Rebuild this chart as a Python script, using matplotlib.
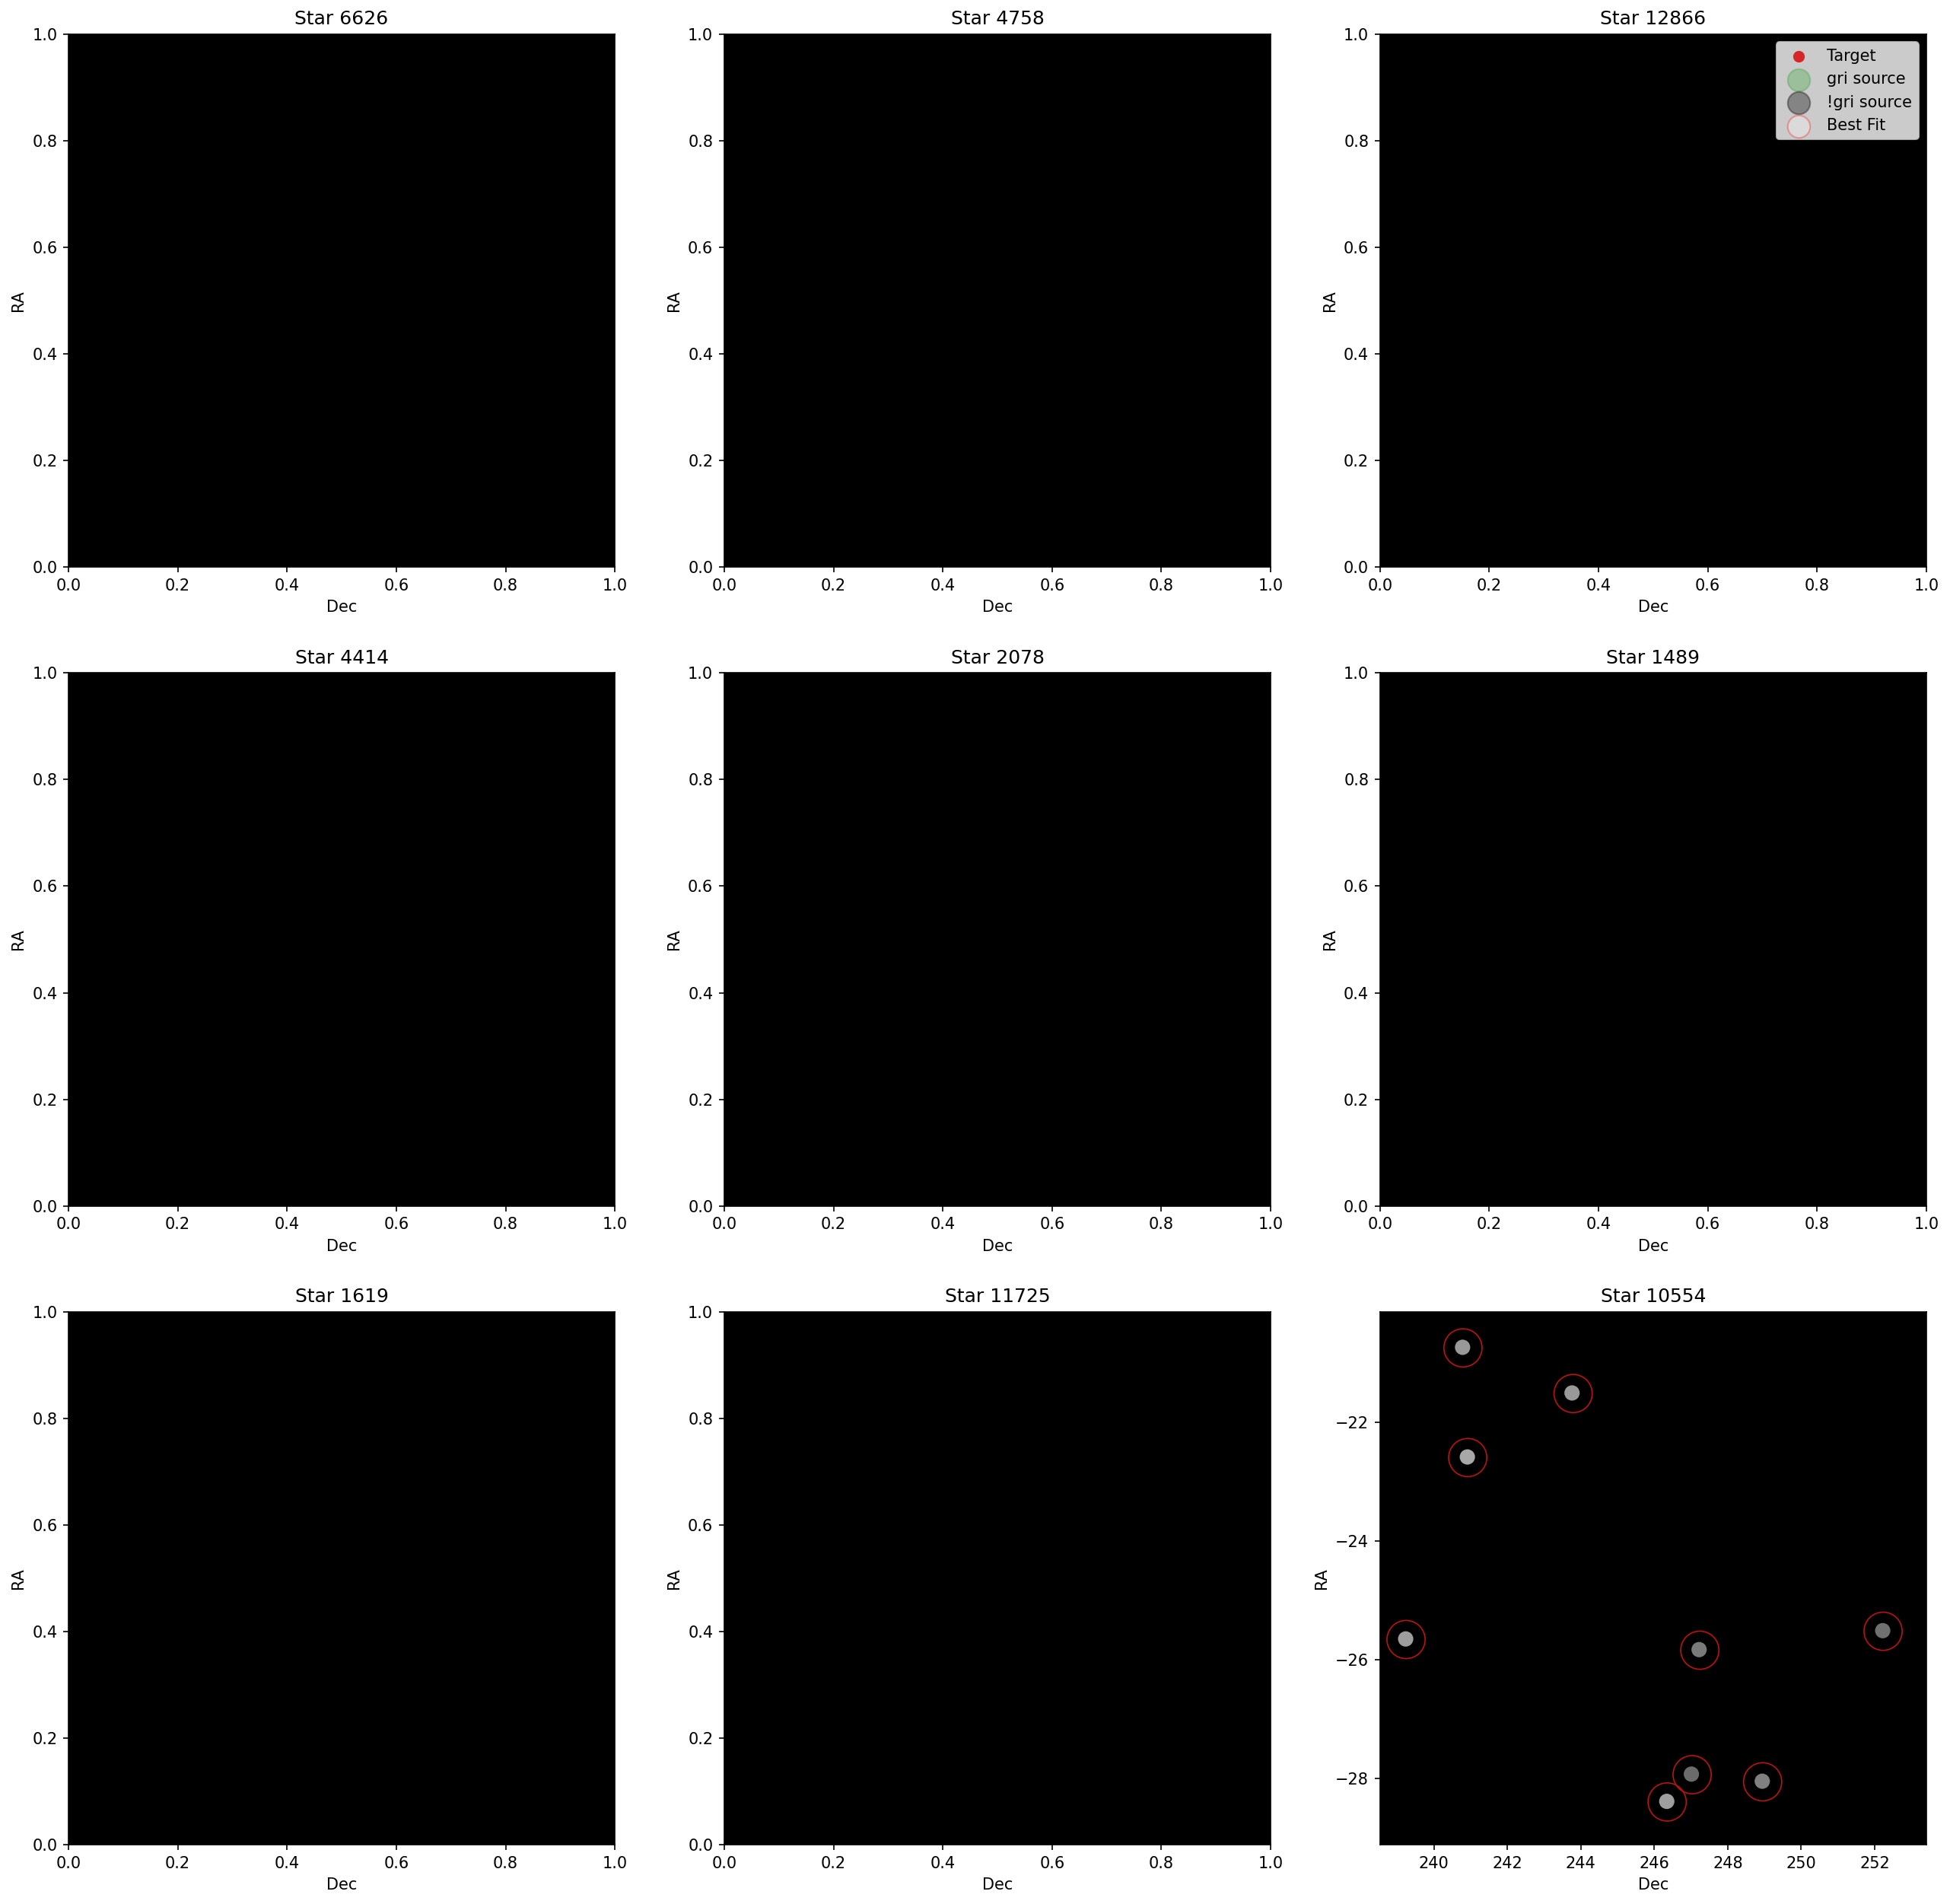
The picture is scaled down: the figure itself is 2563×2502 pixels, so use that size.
import matplotlib
matplotlib.use("Agg")
import matplotlib.pyplot as plt
from matplotlib.ticker import MultipleLocator
import numpy as np

# ---- data ----
star_ids = [6626, 4758, 12866, 4414, 2078, 1489, 1619, 11725, 10554]

# sources in the last panel (Star 10554)
src_dec = [240.78, 243.76, 240.91, 239.23, 247.22, 252.22, 247.01, 248.94, 246.34]
src_ra = [-20.73, -21.50, -22.58, -25.65, -25.83, -25.51, -27.93, -28.05, -28.39]
src_shade = [0.60, 0.60, 0.66, 0.62, 0.48, 0.44, 0.42, 0.50, 0.62]

# best-fit positions in the last panel
fit_dec = [240.79, 243.79, 240.92, 239.24, 247.24, 252.23, 247.03, 248.95, 246.35]
fit_ra = [-20.74, -21.51, -22.59, -25.66, -25.84, -25.52, -27.94, -28.06, -28.40]

last_xlim = (238.53, 253.41)
last_ylim = (-29.12, -20.13)

W, H, DPI = 2563, 2502, 150
fig, axes = plt.subplots(3, 3, figsize=(W / DPI, H / DPI), dpi=DPI)
fig.subplots_adjust(left=90 / W, right=2532 / W, top=1 - 45 / H, bottom=1 - 2424 / H,
                    wspace=0.2, hspace=0.1986)

for ax, sid in zip(axes.flat, star_ids):
    ax.set_facecolor("black")
    ax.set_title(f"Star {sid}")
    ax.set_xlabel("Dec")
    ax.set_ylabel("RA")

# legend on the third panel (empty scatters)
ax3 = axes.flat[2]
ax3.scatter([], [], s=40, color="#d62728", label="Target")
ax3.scatter([], [], s=200, color="tab:green", alpha=0.3, label="gri source")
ax3.scatter([], [], s=200, color="k", alpha=0.35, label="!gri source")
ax3.scatter([], [], s=200, facecolor="white", edgecolor="red", alpha=0.3, label="Best Fit")
ax3.set_xlim(0, 1)
ax3.set_ylim(0, 1)
ax3.legend(loc="upper right")

# last panel
ax9 = axes.flat[8]
ax9.scatter(src_dec, src_ra, s=75, c=src_shade, cmap="gray", vmin=0, vmax=1)
ax9.scatter(fit_dec, fit_ra, s=580, facecolor="none", edgecolor="#b81414", linewidths=0.8)
ax9.set_xlim(*last_xlim)
ax9.set_ylim(*last_ylim)
ax9.yaxis.set_major_locator(MultipleLocator(2))
ax9.xaxis.set_major_locator(MultipleLocator(2))

fig.savefig("out.png", dpi=DPI)
